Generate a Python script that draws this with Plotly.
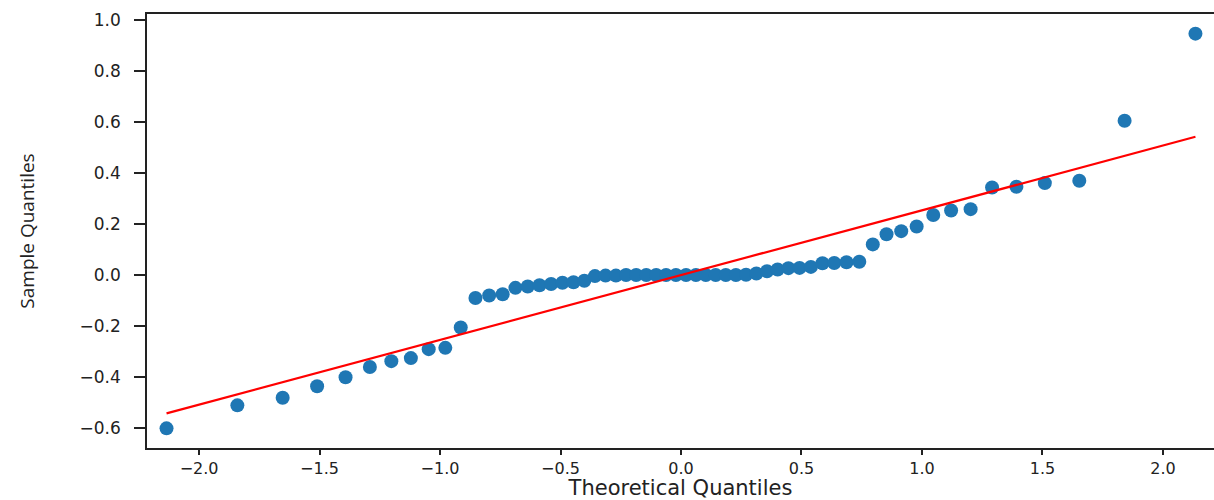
import plotly.graph_objects as go

# Theoretical normal quantiles (n = 60) read from the x positions of the points
theoretical = [
    -2.135, -1.841, -1.653, -1.510, -1.392, -1.291, -1.202, -1.121, -1.047, -0.978,
    -0.914, -0.853, -0.796, -0.740, -0.687, -0.636, -0.587, -0.539, -0.492, -0.446,
    -0.401, -0.357, -0.313, -0.270, -0.228, -0.186, -0.144, -0.103, -0.062, -0.021,
    0.021, 0.062, 0.103, 0.144, 0.186, 0.228, 0.270, 0.313, 0.357, 0.401,
    0.446, 0.492, 0.539, 0.587, 0.636, 0.687, 0.740, 0.796, 0.853, 0.914,
    0.978, 1.047, 1.121, 1.202, 1.291, 1.392, 1.510, 1.653, 1.841, 2.135,
]

# Sample quantiles (sorted data)
sample = [
    -0.600, -0.510, -0.480, -0.435, -0.400, -0.360, -0.337, -0.325, -0.290, -0.285,
    -0.205, -0.090, -0.080, -0.075, -0.050, -0.045, -0.040, -0.035, -0.030, -0.028,
    -0.022, -0.004, -0.002, -0.002, 0.000, 0.000, 0.000, 0.000, 0.000, 0.000,
    0.000, 0.000, 0.000, 0.000, 0.000, 0.000, 0.001, 0.006, 0.015, 0.022,
    0.027, 0.028, 0.032, 0.046, 0.047, 0.050, 0.052, 0.120, 0.160, 0.172,
    0.190, 0.235, 0.253, 0.258, 0.343, 0.346, 0.360, 0.369, 0.604, 0.945,
]

# Reference line (standardized fit) parameters
line_intercept = 0.0
line_slope = 0.2535

x_ticks = [-2.0, -1.5, -1.0, -0.5, 0.0, 0.5, 1.0, 1.5, 2.0]
x_tick_labels = ["\u22122.0", "\u22121.5", "\u22121.0", "\u22120.5", "0.0", "0.5", "1.0", "1.5", "2.0"]
y_ticks = [-0.6, -0.4, -0.2, 0.0, 0.2, 0.4, 0.6, 0.8, 1.0]
y_tick_labels = ["\u22120.6", "\u22120.4", "\u22120.2", "0.0", "0.2", "0.4", "0.6", "0.8", "1.0"]

line_x = [theoretical[0], theoretical[-1]]
line_y = [line_intercept + line_slope * v for v in line_x]

fig = go.Figure()
fig.add_trace(go.Scatter(
    x=theoretical, y=sample, mode="markers",
    marker=dict(color="#1f77b4", size=14, line=dict(width=0)),
    showlegend=False,
))
fig.add_trace(go.Scatter(
    x=line_x, y=line_y, mode="lines",
    line=dict(color="red", width=2.2),
    showlegend=False,
))

fig.update_layout(
    width=1214, height=500,
    margin=dict(l=147, r=0, t=14, b=52),
    paper_bgcolor="white", plot_bgcolor="white",
    xaxis=dict(
        range=[-2.216, 2.212],
        tickvals=x_ticks, ticktext=x_tick_labels,
        ticks="outside", ticklen=5, tickwidth=1.5, tickcolor="#222",
        showline=True, linecolor="#222", linewidth=1.5, mirror=True,
        showgrid=False, zeroline=False,
        tickfont=dict(family="DejaVu Sans", size=16, color="#222"),
        title=dict(text="Theoretical Quantiles", standoff=2,
                   font=dict(family="DejaVu Sans", size=21, color="#222")),
    ),
    yaxis=dict(
        range=[-0.677, 1.022],
        tickvals=y_ticks, ticktext=y_tick_labels,
        ticks="outside", ticklen=11, tickwidth=1.5, tickcolor="#222",
        ticklabelstandoff=10,
        showline=True, linecolor="#222", linewidth=1.5, mirror=False,
        showgrid=False, zeroline=False,
        tickfont=dict(family="DejaVu Sans", size=17, color="#222"),
        title=dict(text="Sample Quantiles", standoff=40,
                   font=dict(family="Open Sans", size=19, color="#222")),
    ),
)

fig.write_html("out.html")
